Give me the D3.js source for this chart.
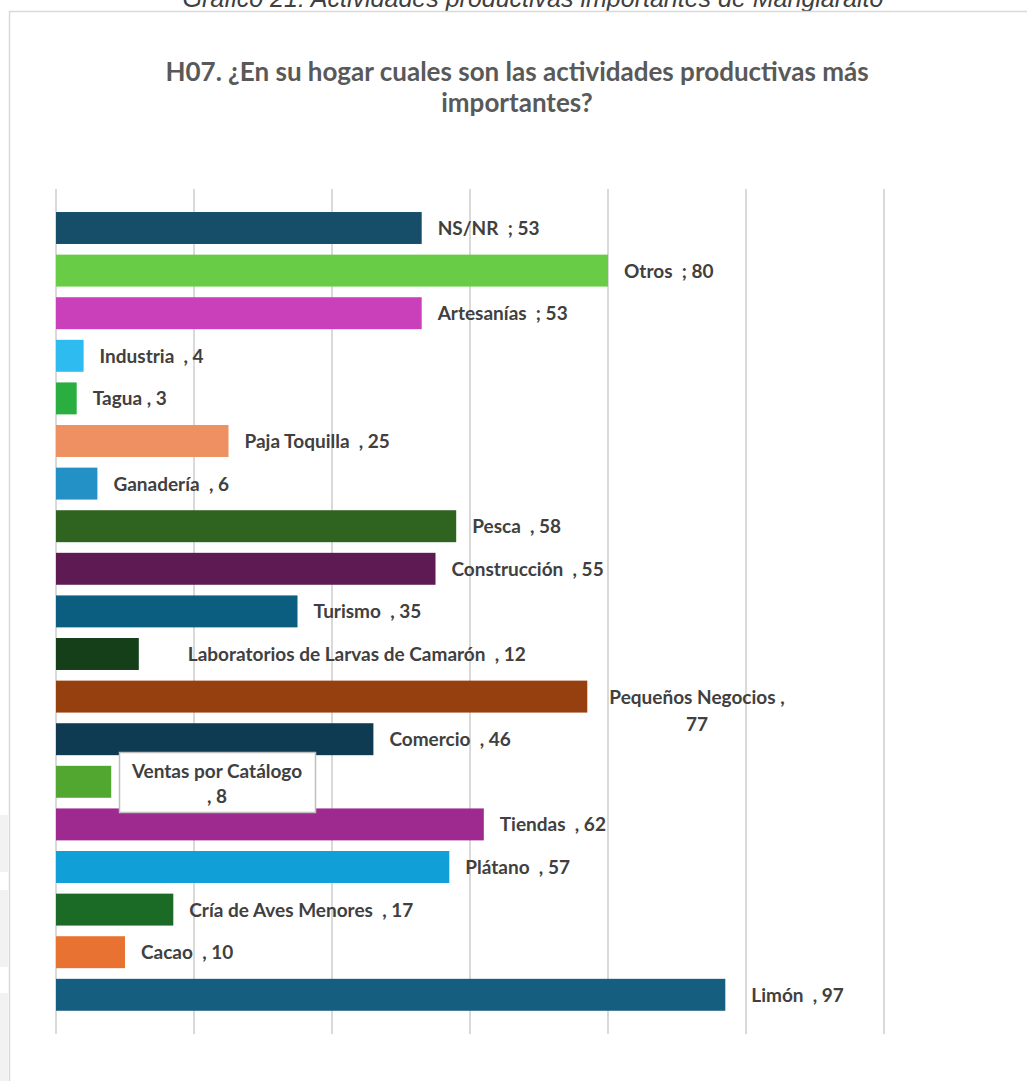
<!DOCTYPE html>
<html>
<head>
<meta charset="utf-8">
<script src="https://cdn.jsdelivr.net/npm/d3@7"></script>
<style>
  body { margin: 0; background: #fff; }
  svg { display: block; }
</style>
</head>
<body>
<div class="chart"></div>
<script>
'use strict';

var categories = [
  'NS/NR', 'Otros', 'Artesanías', 'Industria', 'Tagua', 'Paja Toquilla',
  'Ganadería', 'Pesca', 'Construcción', 'Turismo',
  'Laboratorios de Larvas de Camarón', 'Pequeños Negocios', 'Comercio',
  'Ventas por Catálogo', 'Tiendas', 'Plátano', 'Cría de Aves Menores',
  'Cacao', 'Limón'
];
var values = [53, 80, 53, 4, 3, 25, 6, 58, 55, 35, 12, 77, 46, 8, 62, 57, 17, 10, 97];
var separators = [';', ';', ';', ',', ',', ',', ',', ',', ',', ',', ',', ',', ',', ',', ',', ',', ',', ',', ','];
var barColors = [
  '#164e6a', '#68cc46', '#ca3fba', '#2ebbef', '#2aae3f', '#ee9061',
  '#2390c6', '#2f6320', '#5e1a53', '#0b5e80', '#143f19', '#96400f',
  '#0e3a52', '#52a731', '#9e2a90', '#109fd7', '#1b6a25', '#e87232', '#165e80'
];
var xTicks = [0, 20, 40, 60, 80, 100, 120];

var width = 1027, height = 1081;

var svg = d3.select('.chart')
  .append('svg')
  .attr('width', width)
  .attr('height', height);

// page artifacts left of the chart frame
[[815, 872], [890, 967], [993, 1081]].forEach(function(s){
  svg.append('rect')
    .attr('x', 0).attr('y', s[0])
    .attr('width', 8).attr('height', s[1] - s[0])
    .attr('fill', '#f2f2f2');
});

// caption above the chart (cut by the page top, as in the original)
svg.append('text')
  .attr('x', 533).attr('y', 7)
  .attr('text-anchor', 'middle')
  .attr('font-family', 'Liberation Sans, Arial, sans-serif')
  .attr('font-style', 'italic')
  .attr('font-size', 25)
  .attr('fill', '#404040')
  .text('Gráfico 21: Actividades productivas importantes de Manglaralto');

// chart frame
svg.append('rect')
  .attr('x', 9.5).attr('y', 11.5)
  .attr('width', 1040).attr('height', 1100)
  .attr('fill', '#fff')
  .attr('stroke', '#d9d9d9')
  .attr('stroke-width', 1.5);

// title
var title = svg.append('text')
  .attr('text-anchor', 'middle')
  .attr('font-family', 'Lato, Carlito, Calibri, sans-serif')
  .attr('font-weight', 'bold')
  .attr('font-size', 26)
  .attr('fill', '#595959');
title.append('tspan').attr('x', 517).attr('y', 81)
  .text('H07. ¿En su hogar cuales son las actividades productivas más');
title.append('tspan').attr('x', 517).attr('y', 112)
  .text('importantes?');

var x = d3.scaleLinear().domain([0, 120]).range([56, 884]);
var y = d3.scaleBand().domain(categories)
  .range([206.7, 1016.1])
  .paddingInner(0.25)
  .paddingOuter(0.125);

// vertical gridlines
svg.append('g')
  .selectAll('line')
  .data(xTicks)
  .enter().append('line')
  .attr('x1', function(d){ return x(d); })
  .attr('x2', function(d){ return x(d); })
  .attr('y1', 189)
  .attr('y2', 1034)
  .attr('stroke', '#d9d9d9')
  .attr('stroke-width', 2);

var rows = categories.map(function(c, i){
  return { cat: c, val: values[i], sep: separators[i], color: barColors[i] };
});

// bars
svg.append('g')
  .selectAll('rect')
  .data(rows)
  .enter().append('rect')
  .attr('x', x(0))
  .attr('y', function(d){ return y(d.cat); })
  .attr('width', function(d){ return x(d.val) - x(0); })
  .attr('height', y.bandwidth())
  .attr('fill', function(d){ return d.color; });

// label placement tweaks, as moved by hand in the original
var labelShift = {
  'Laboratorios de Larvas de Camarón': 33,
  'Limón': 10
};

var labels = svg.append('g')
  .attr('font-family', 'Lato, Carlito, Calibri, sans-serif')
  .attr('font-weight', 'bold')
  .attr('font-size', 19)
  .attr('fill', '#404040');

rows.forEach(function(d){
  var cy = y(d.cat) + y.bandwidth() / 2;
  if(d.cat === 'Pequeños Negocios'){
    var t = labels.append('text').attr('text-anchor', 'middle');
    t.append('tspan').attr('x', 697).attr('y', cy + 7)
      .text(d.cat + '  ' + d.sep);
    t.append('tspan').attr('x', 697).attr('y', cy + 34)
      .text(d.val);
    return;
  }
  if(d.cat === 'Ventas por Catálogo'){
    svg.append('rect')
      .attr('x', 119.5).attr('y', 752.5)
      .attr('width', 196).attr('height', 60)
      .attr('fill', '#fff')
      .attr('stroke', '#bfbfbf')
      .attr('stroke-width', 1.5);
    var v = labels.append('text').attr('text-anchor', 'middle');
    v.append('tspan').attr('x', 217).attr('y', 778).text(d.cat);
    v.append('tspan').attr('x', 217).attr('y', 803).text(d.sep + ' ' + d.val);
    return;
  }
  var gap = d.cat === 'Tagua' ? ' ' : '  ';
  labels.append('text')
    .attr('x', x(d.val) + 16 + (labelShift[d.cat] || 0))
    .attr('y', cy + 7)
    .style('white-space', 'pre')
    .text(d.cat + gap + d.sep + ' ' + d.val);
});

// keep the labels above the callout box
labels.raise();
</script>
</body>
</html>
